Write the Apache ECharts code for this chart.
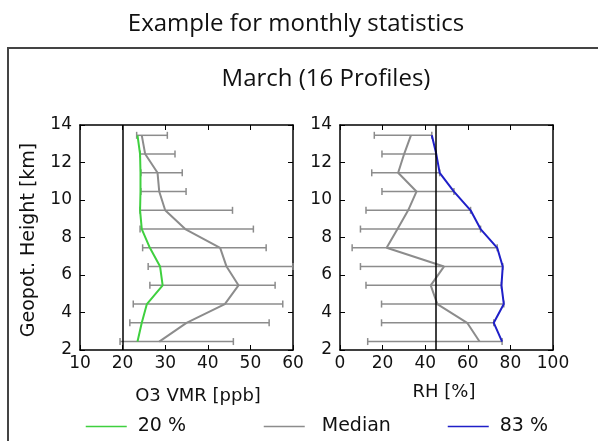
<!DOCTYPE html>
<html>
<head>
<meta charset="utf-8">
<script src="https://cdn.jsdelivr.net/npm/echarts@6/dist/echarts.min.js"></script>
<style>
  html, body { margin: 0; padding: 0; background: #fff; }
  #chart { width: 598px; height: 441px; }
</style>
</head>
<body>
<div id="chart"></div>
<script>
// heights of the profile levels, bottom to top [km]
const heights = [2.45, 3.45, 4.45, 5.45, 6.45, 7.45, 8.45, 9.45, 10.45, 11.45, 12.45, 13.45]

// O3 VMR [ppb]
const o3Median = [28.6, 35.0, 44.0, 47.2, 44.4, 42.9, 34.7, 30.0, 28.6, 28.2, 25.3, 24.5]
const o3P20 = [23.5, 24.5, 25.7, 29.4, 28.8, 26.4, 24.5, 24.1, 24.2, 24.2, 24.1, 23.5]
const o3ErrLow = [19.4, 21.7, 22.5, 26.4, 26.0, 24.7, 24.1, 24.1, 24.3, 24.3, 24.1, 23.3]
const o3ErrHigh = [46.0, 54.4, 57.6, 55.8, 60.0, 53.7, 50.7, 45.8, 34.9, 34.0, 32.3, 30.5]
const o3Ref = 20

// RH [%]
const rhMedian = [65.5, 59.7, 45.7, 42.6, 48.8, 21.9, 27.0, 32.0, 35.9, 27.3, 30.1, 33.3]
const rhP83 = [76.1, 72.2, 76.9, 75.8, 76.4, 73.8, 66.0, 61.3, 53.5, 46.8, 45.2, 43.1]
const rhErrLow = [13.0, 19.5, 19.5, 12.2, 9.6, 5.7, 9.6, 12.2, 19.7, 14.9, 19.7, 16.1]
const rhErrHigh = [76.1, 72.2, 76.9, 75.8, 76.4, 73.8, 66.0, 61.3, 53.5, 46.8, 45.2, 43.1]
const rhRef = 45

const o3Ticks = { min: 10, max: 60, interval: 10 }
const rhTicks = { min: 0, max: 100, interval: 20 }
const hTicks = { min: 2, max: 14, interval: 2 }

const GRAY = '#8c8c8c'
const GREEN = '#3fd03f'
const BLUE = '#1f1fc8'
const TICK_FONT = 'DejaVu Sans'

const pairs = (xs) => xs.map((v, i) => [v, heights[i]])
const errRows = (lo, hi) => lo.map((v, i) => [v, hi[i], heights[i]])

function renderErr (params, api) {
  const h = api.value(2)
  const p1 = api.coord([api.value(0), h])
  const p2 = api.coord([api.value(1), h])
  const c = 3.5
  const st = { stroke: GRAY, lineWidth: 1.5 }
  return {
    type: 'group',
    children: [
      { type: 'line', shape: { x1: p1[0], y1: p1[1], x2: p2[0], y2: p2[1] }, style: st },
      { type: 'line', shape: { x1: p1[0], y1: p1[1] - c, x2: p1[0], y2: p1[1] + c }, style: st },
      { type: 'line', shape: { x1: p2[0], y1: p2[1] - c, x2: p2[0], y2: p2[1] + c }, style: st }
    ]
  }
}

function xAx (grid, ticks, pos, labels) {
  return {
    type: 'value', gridIndex: grid, position: pos,
    min: ticks.min, max: ticks.max, interval: ticks.interval,
    axisLine: { show: true, onZero: false, lineStyle: { color: '#000', width: 1.5 } },
    axisTick: { show: true, inside: true, length: 5, lineStyle: { color: '#000', width: 1 } },
    axisLabel: { show: labels, margin: 5, fontSize: 17, fontFamily: TICK_FONT, color: '#111' },
    splitLine: { show: false }
  }
}

function yAx (grid, pos, labels) {
  return {
    type: 'value', gridIndex: grid, position: pos,
    min: hTicks.min, max: hTicks.max, interval: hTicks.interval,
    axisLine: { show: true, onZero: false, lineStyle: { color: '#000', width: 1.5 } },
    axisTick: { show: true, inside: true, length: 5, lineStyle: { color: '#000', width: 1 } },
    axisLabel: { show: labels, margin: 8, fontSize: 17, fontFamily: TICK_FONT, color: '#111' },
    splitLine: { show: false }
  }
}

function refLine (x) {
  return {
    silent: true,
    symbol: ['none', 'none'],
    label: { show: false },
    lineStyle: { color: '#000', type: 'solid', width: 1.5 },
    data: [{ xAxis: x }]
  }
}

function legendAt (name, left, gap) {
  return {
    data: [name], left: left, top: 417, padding: 0,
    itemWidth: 41, itemHeight: 14,
    itemStyle: { opacity: 0 }, // no marker, only the line
    lineStyle: { width: 1.5 },
    textStyle: { fontSize: 19, fontFamily: TICK_FONT, color: '#111', padding: [0, 0, 0, gap] }
  }
}

const chart = echarts.init(document.getElementById('chart'))

chart.setOption({
  animation: false,
  backgroundColor: '#fff',
  grid: [
    { left: 80, top: 125, width: 213, height: 225 },
    { left: 340, top: 125, width: 213, height: 225 }
  ],
  xAxis: [
    xAx(0, o3Ticks, 'bottom', true),
    xAx(0, o3Ticks, 'top', false),
    xAx(1, rhTicks, 'bottom', true),
    xAx(1, rhTicks, 'top', false)
  ],
  yAxis: [
    yAx(0, 'left', true),
    yAx(0, 'right', false),
    yAx(1, 'left', true),
    yAx(1, 'right', false)
  ],
  legend: [
    legendAt('20 %', 85, 6),
    legendAt('Median', 263, 12),
    legendAt('83 %', 447, 6)
  ],
  series: [
    {
      type: 'custom', xAxisIndex: 0, yAxisIndex: 0,
      renderItem: renderErr, encode: { x: [0, 1], y: 2 },
      data: errRows(o3ErrLow, o3ErrHigh)
    },
    {
      name: 'Median', type: 'line', xAxisIndex: 0, yAxisIndex: 0,
      symbol: 'none', color: GRAY, lineStyle: { width: 2, color: GRAY },
      data: pairs(o3Median), markLine: refLine(o3Ref)
    },
    {
      name: '20 %', type: 'line', xAxisIndex: 0, yAxisIndex: 0,
      symbol: 'none', color: GREEN, lineStyle: { width: 2, color: GREEN },
      data: pairs(o3P20)
    },
    {
      type: 'custom', xAxisIndex: 2, yAxisIndex: 2,
      renderItem: renderErr, encode: { x: [0, 1], y: 2 },
      data: errRows(rhErrLow, rhErrHigh)
    },
    {
      name: 'Median', type: 'line', xAxisIndex: 2, yAxisIndex: 2,
      symbol: 'none', color: GRAY, lineStyle: { width: 2, color: GRAY },
      data: pairs(rhMedian), markLine: refLine(rhRef)
    },
    {
      name: '83 %', type: 'line', xAxisIndex: 2, yAxisIndex: 2,
      symbol: 'none', color: BLUE, lineStyle: { width: 2, color: BLUE },
      data: pairs(rhP83)
    }
  ],
  graphic: [
    // frame round the figure, only top and left edge are in view
    { type: 'rect', shape: { x: 8, y: 48, width: 700, height: 500 }, style: { fill: 'none', stroke: '#444', lineWidth: 2 } },
    { type: 'text', x: 296, y: 24, style: { text: 'Example for monthly statistics', font: '24px "Open Sans"', fill: '#111', align: 'center', verticalAlign: 'middle', textAlign: 'center', textVerticalAlign: 'middle' } },
    { type: 'text', x: 326, y: 79, style: { text: 'March (16 Profiles)', font: '24px "Open Sans"', fill: '#111', align: 'center', verticalAlign: 'middle', textAlign: 'center', textVerticalAlign: 'middle' } },
    { type: 'text', x: 29, y: 240, rotation: Math.PI / 2, style: { text: 'Geopot. Height [km]', font: '19px "DejaVu Sans"', fill: '#111', align: 'center', verticalAlign: 'middle', textAlign: 'center', textVerticalAlign: 'middle' } },
    { type: 'text', x: 198, y: 396, style: { text: 'O3 VMR [ppb]', font: '18px "DejaVu Sans"', fill: '#111', align: 'center', verticalAlign: 'middle', textAlign: 'center', textVerticalAlign: 'middle' } },
    { type: 'text', x: 444, y: 392, style: { text: 'RH [%]', font: '18px "DejaVu Sans"', fill: '#111', align: 'center', verticalAlign: 'middle', textAlign: 'center', textVerticalAlign: 'middle' } }
  ]
})
</script>
</body>
</html>
